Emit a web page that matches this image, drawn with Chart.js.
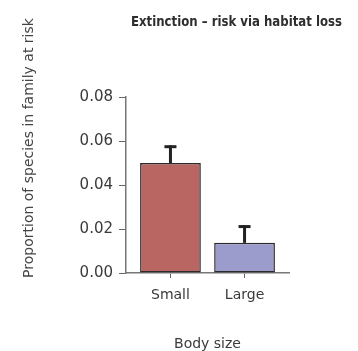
<!DOCTYPE html>
<html lang="en">
<head>
    <meta charset="UTF-8">
    <title>Extinction – risk via habitat loss</title>
    <script src="https://cdn.jsdelivr.net/npm/chart.js"></script>
    <style>
        html, body { margin: 0; padding: 0; background: #fff; }
        #wrap { width: 358px; height: 351px; position: relative; }
    </style>
</head>
<body>
    <div id="wrap"><canvas id="risk-chart"></canvas></div>

    <script>
        // data
        const categories = ['Small', 'Large'];
        const proportions = [0.050, 0.0137];
        const errorTops = [0.058, 0.0217];
        const yTicks = [0, 0.02, 0.04, 0.06, 0.08];
        const barColors = ['#b96562', '#9b9bcc'];

        const titleText = 'Extinction – risk via habitat loss';
        const yTitleText = 'Proportion of species in family at risk';

        // error bars + the two free-standing titles
        const extrasPlugin = {
            id: 'extras',
            afterDatasetsDraw(chart) {
                const ctx = chart.ctx;
                const x = chart.scales.x;
                const y = chart.scales.y;
                ctx.save();
                ctx.strokeStyle = '#222';
                ctx.lineCap = 'butt';
                for (let i = 0; i < categories.length; i++) {
                    const cx = x.getPixelForValue(i);
                    const yBar = y.getPixelForValue(proportions[i]);
                    const yErr = y.getPixelForValue(errorTops[i]);
                    ctx.lineWidth = 3;
                    ctx.beginPath();
                    ctx.moveTo(cx, yBar);
                    ctx.lineTo(cx, yErr);
                    ctx.stroke();
                    ctx.beginPath();
                    ctx.moveTo(cx - 6, yErr + 1.3);
                    ctx.lineTo(cx + 6, yErr + 1.3);
                    ctx.stroke();
                }
                ctx.restore();
            },
            afterDraw(chart) {
                const ctx = chart.ctx;
                ctx.save();
                ctx.fillStyle = '#2e2e2e';
                ctx.font = 'bold 14px "DejaVu Sans Condensed", "Liberation Sans Narrow", sans-serif';
                ctx.textAlign = 'left';
                ctx.textBaseline = 'alphabetic';
                // squeeze a little to match the narrow face of the original
                const w = ctx.measureText(titleText).width;
                ctx.translate(131, 25.5);
                ctx.scale(211 / w, 1);
                ctx.fillText(titleText, 0, 0);
                ctx.restore();

                ctx.save();
                ctx.fillStyle = '#444';
                ctx.font = '14px "DejaVu Sans", sans-serif';
                ctx.translate(33, 148);
                ctx.rotate(-Math.PI / 2);
                ctx.textAlign = 'center';
                ctx.fillText(yTitleText, 0, 0);
                ctx.restore();
            }
        };

        const ctx = document.getElementById('risk-chart').getContext('2d');
        new Chart(ctx, {
            type: 'bar',
            data: {
                datasets: [{
                    data: proportions.map((v, i) => ({ x: i, y: v })),
                    backgroundColor: barColors,
                    borderColor: '#2b2b2b',
                    borderWidth: 1.5,
                    borderSkipped: false,
                    categoryPercentage: 1,
                    barPercentage: 0.82
                }]
            },
            plugins: [extrasPlugin],
            options: {
                responsive: true,
                maintainAspectRatio: false,
                animation: false,
                layout: { padding: { top: 97, right: 69, left: 0, bottom: 0 } },
                plugins: {
                    legend: { display: false },
                    tooltip: { enabled: false }
                },
                scales: {
                    x: {
                        type: 'linear',
                        min: -0.6,
                        max: 1.6,
                        offset: false,
                        afterBuildTicks: (scale) => {
                            scale.ticks = categories.map((_, i) => ({ value: i }));
                        },
                        afterFit: (scale) => { scale.height = 78; },
                        ticks: {
                            callback: (v) => categories[v],
                            color: '#3a3a3a',
                            font: { family: 'DejaVu Sans', size: 14 },
                            padding: 9,
                            maxRotation: 0
                        },
                        grid: {
                            offset: false,
                            drawOnChartArea: false,
                            drawTicks: true,
                            tickLength: 5,
                            color: '#666'
                        },
                        border: { color: '#777', width: 1.5 },
                        title: {
                            display: true,
                            text: 'Body size',
                            color: '#3a3a3a',
                            font: { family: 'DejaVu Sans', size: 14 },
                            padding: { top: 0, bottom: -2 }
                        }
                    },
                    y: {
                        min: 0,
                        max: 0.08,
                        afterBuildTicks: (scale) => {
                            scale.ticks = yTicks.map(v => ({ value: v }));
                        },
                        afterFit: (scale) => { scale.width = 126; },
                        ticks: {
                            callback: (v) => v.toFixed(2),
                            color: '#3a3a3a',
                            font: { family: 'DejaVu Sans', size: 15 },
                            padding: 6
                        },
                        grid: {
                            drawOnChartArea: false,
                            drawTicks: true,
                            tickLength: 7,
                            color: '#666'
                        },
                        border: { color: '#777', width: 1.5 }
                    }
                }
            }
        });
    </script>
</body>
</html>
